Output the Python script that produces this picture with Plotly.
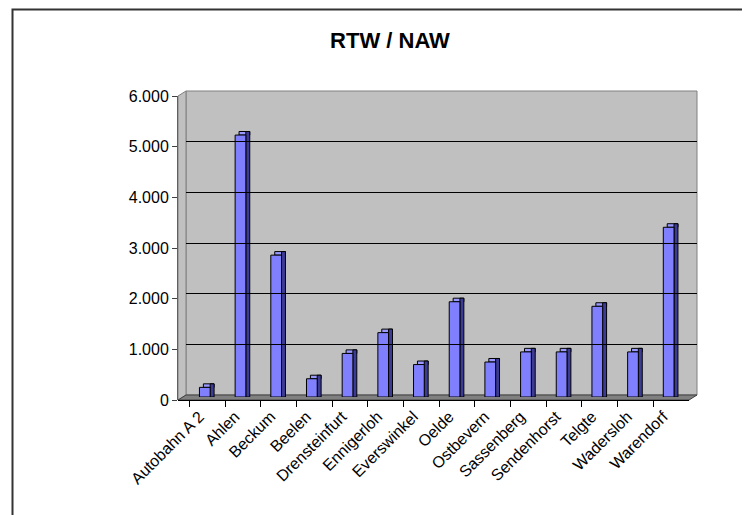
import plotly.graph_objects as go

# ---- data ----
categories = ["Autobahn A 2", "Ahlen", "Beckum", "Beelen", "Drensteinfurt",
              "Ennigerloh", "Everswinkel", "Oelde", "Ostbevern", "Sassenberg",
              "Sendenhorst", "Telgte", "Wadersloh", "Warendorf"]
values = [190, 5170, 2800, 360, 860, 1270, 640, 1880, 690, 890, 890, 1790, 890, 3350]
y_ticks = [0, 1000, 2000, 3000, 4000, 5000, 6000]
title_text = "RTW / NAW"

# ---- geometry helpers (window pixels -> paper); page body has an 8px margin ----
OFF = 8
W, H = 750 - OFF, 515 - OFF
def px(x):
    return (x - OFF) / W
def py(y):
    return 1 - (y - OFF) / H

FONT = "Arial, Liberation Sans, sans-serif"
depth_units = 70  # 3D depth expressed in value units (~3.5 px)

fig = go.Figure()

# top face of bars
fig.add_trace(go.Bar(
    x=categories, y=[depth_units] * len(values), base=values,
    offset=-0.11, width=0.30,
    marker=dict(color="#9999FF", line=dict(color="#000000", width=1)),
    hoverinfo="skip", showlegend=False, xaxis="x", yaxis="y"))
# side face of bars
fig.add_trace(go.Bar(
    x=categories, y=[v + depth_units for v in values],
    offset=0.08, width=0.11,
    marker=dict(color="#3C3C96", line=dict(color="#000000", width=1)),
    hoverinfo="skip", showlegend=False, xaxis="x", yaxis="y"))
# front face of bars
fig.add_trace(go.Bar(
    x=categories, y=values,
    offset=-0.22, width=0.30,
    marker=dict(color="#8080FF", line=dict(color="#000000", width=1)),
    name="RTW / NAW", showlegend=False, xaxis="x", yaxis="y"))

# invisible helpers so the tick axis and grid axis render
fig.add_trace(go.Scatter(x=[categories[0]], y=[0], mode="markers",
                         marker=dict(opacity=0), hoverinfo="skip",
                         showlegend=False, xaxis="x", yaxis="y3"))
fig.add_trace(go.Scatter(x=[0], y=[0], mode="markers",
                         marker=dict(opacity=0), hoverinfo="skip",
                         showlegend=False, xaxis="x2", yaxis="y2"))

# ---- wall / floor decoration ----
shapes = [
    # back wall
    dict(type="rect", xref="paper", yref="paper",
         x0=px(186), x1=px(697), y0=py(395), y1=py(91),
         fillcolor="#C0C0C0", line=dict(color="#808080", width=1), layer="below"),
    # left side wall
    dict(type="path", xref="paper", yref="paper",
         path=f"M {px(178)} {py(96)} L {px(186)} {py(91)} L {px(186)} {py(395)} L {px(178)} {py(400)} Z",
         fillcolor="#C0C0C0", line=dict(color="#808080", width=1), layer="below"),
    # floor
    dict(type="path", xref="paper", yref="paper",
         path=f"M {px(178)} {py(400)} L {px(689)} {py(400)} L {px(697)} {py(395)} L {px(186)} {py(395)} Z",
         fillcolor="#808080", line=dict(color="#404040", width=1), layer="below"),
    # chart area border (left + top)
    dict(type="path", xref="paper", yref="paper",
         path=f"M {px(12.5)} {py(515)} L {px(12.5)} {py(9.5)} L {px(750)} {py(9.5)}",
         line=dict(color="#333333", width=2), layer="above"),
]

fig.update_layout(
    width=W, height=H,
    margin=dict(l=0, r=0, t=0, b=0, autoexpand=False),
    paper_bgcolor="white",
    plot_bgcolor="rgba(0,0,0,0)",
    separators=",.",
    barmode="overlay",
    font=dict(family=FONT, size=16, color="#000000"),
    title=dict(text=f"<b>{title_text}</b>", x=px(390), y=py(40),
               xref="container", yref="container",
               xanchor="center", yanchor="middle",
               font=dict(family=FONT, size=22, color="#000000")),
    shapes=shapes,
    xaxis=dict(domain=[px(178), px(689)], anchor="free", position=py(400),
               type="category", categoryorder="array", categoryarray=categories,
               showline=True, linecolor="#000000", linewidth=1,
               ticks="outside", ticklen=6, tickcolor="#000000",
               tickson="boundaries", tickangle=-45, ticklabelshift=-8,
               showgrid=False, zeroline=False, automargin=False,
               tickfont=dict(family=FONT, size=16)),
    yaxis=dict(domain=[py(397), py(93)], range=[0, 6000], anchor="x",
               visible=False, showgrid=False, zeroline=False),
    yaxis3=dict(domain=[py(400), py(96)], range=[0, 6000], anchor="x",
                tickvals=y_ticks, tickformat=",",
                showline=True, linecolor="#606060", linewidth=1,
                ticks="outside", ticklen=5, tickcolor="#404040",
                showgrid=False, zeroline=False, automargin=False,
                tickfont=dict(family=FONT, size=16)),
    xaxis2=dict(domain=[px(186), px(697)], range=[0, 1], anchor="y2",
                visible=False),
    yaxis2=dict(domain=[py(395), py(91)], range=[0, 6000], anchor="x2",
                tickvals=y_ticks[1:-1], showticklabels=False, ticks="",
                showline=False, showgrid=True, gridcolor="#000000", gridwidth=1,
                zeroline=False),
)

fig.write_html("out.html")
